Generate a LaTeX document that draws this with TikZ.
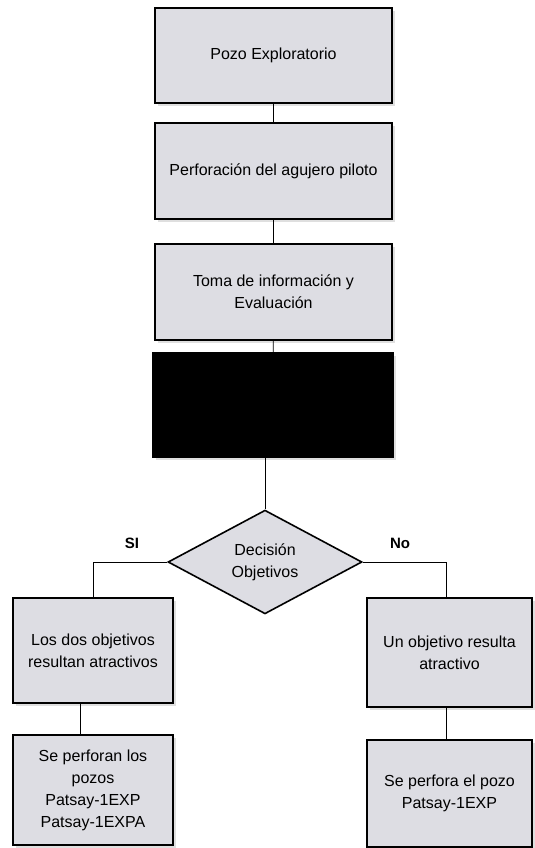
\documentclass[tikz,border=0pt]{standalone}
\usepackage{fontspec}
\setmainfont{Liberation Sans}
\usepackage{tikz}
\usetikzlibrary{shapes,shapes.geometric,arrows,positioning,shadows}
\definecolor{cajagris}{RGB}{221,221,227}

\begin{document}
\begin{tikzpicture}[x=1pt,y=-1pt,
  caja/.style={draw, line width=1.6pt, fill=cajagris, align=center,
    inner sep=2pt, font=\fontsize{16}{22}\selectfont,
    drop shadow={shadow xshift=3pt, shadow yshift=-3pt, opacity=0.25}},
  decision/.style={diamond, draw, line width=1.6pt, fill=cajagris, align=center,
    minimum width=194pt, minimum height=100pt, inner sep=0pt,
    font=\fontsize{16}{22}\selectfont},
  linea/.style={line width=0.9pt},
  rama/.style={font=\bfseries\fontsize{15}{17}\selectfont}]
\useasboundingbox (0,0) rectangle (535,848);
\node[caja, minimum width=237pt, minimum height=95pt] (pozo) at (273.5,55.5) {Pozo Exploratorio};
\node[caja, minimum width=237pt, minimum height=96pt] (perf) at (273.5,171) {Perforación del agujero piloto};
\node[caja, minimum width=237pt, minimum height=96pt] (toma) at (273.5,292) {Toma de información y\\Evaluación};
\node[caja, fill=black, minimum width=240pt, minimum height=104pt] (oculto) at (273,405) {};
\node[decision] (dec) at (265,562) {Decisión\\Objetivos};
\node[caja, minimum width=160pt, minimum height=105pt] (dosobj) at (93,650.5) {Los dos objetivos\\resultan atractivos};
\node[caja, minimum width=160pt, minimum height=110pt] (dospozos) at (93,790) {Se perforan los\\pozos\\Patsay-1EXP\\Patsay-1EXPA};
\node[caja, minimum width=165pt, minimum height=109pt] (unobj) at (449.5,652.5) {Un objetivo resulta\\atractivo};
\node[caja, minimum width=165pt, minimum height=107pt] (unpozo) at (449.5,793.5) {Se perfora el pozo\\Patsay-1EXP};
\node[rama] (si) at (132,543) {SI};
\node[rama] (no) at (400,543) {No};
% conectores
\draw[linea] (pozo) -- (perf);
\draw[linea] (perf) -- (toma);
\draw[linea] (toma) -- (oculto);
\draw[linea] (dec.north |- oculto.south) -- (dec.north);
\draw[linea] (dec.west) -| (dosobj.north);
\draw[linea] (dec.east) -| ([xshift=-3pt]unobj.north);
\draw[linea] ([xshift=-13pt]dosobj.south) -- ([xshift=-13pt]dospozos.north);
\draw[linea] ([xshift=-3pt]unobj.south) -- ([xshift=-3pt]unpozo.north);
\end{tikzpicture}
\end{document}
